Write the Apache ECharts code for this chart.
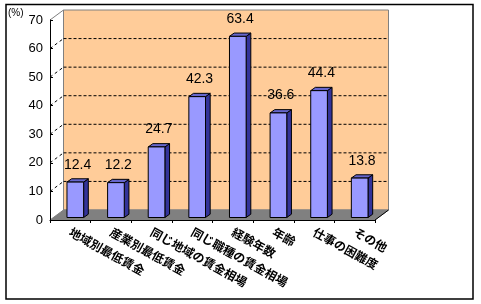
<!DOCTYPE html>
<html><head><meta charset="utf-8">
<script src="https://cdn.jsdelivr.net/npm/echarts@6/dist/echarts.min.js"></script>
<style>html,body{margin:0;padding:0;background:#fff}#c{width:481px;height:304px}</style>
</head><body><div id="c"></div>
<script>
const categories = ['地域別最低賃金','産業別最低賃金','同じ地域の賃金相場','同じ職種の賃金相場','経験年数','年齢','仕事の困難度','その他'];
const values = [12.4, 12.2, 24.7, 42.3, 63.4, 36.6, 44.4, 13.8];
const yTicks = [0, 10, 20, 30, 40, 50, 60, 70];
const unitLabel = '(%)';

const DX = 13.5, DY = -10;
const chart = echarts.init(document.getElementById('c'), null, {renderer: 'canvas'});

function renderWall(params, api) {
  const cs = params.coordSys;
  const x0 = cs.x, x1 = cs.x + cs.width, y0 = cs.y, yb = cs.y + cs.height;
  const ch = [];
  ch.push({type: 'polygon', shape: {points: [[x0 + DX, y0 + DY], [x1 + DX, y0 + DY], [x1 + DX, yb + DY], [x0 + DX, yb + DY]]},
    style: {fill: '#FFCC99', stroke: '#808080', lineWidth: 1}});
  ch.push({type: 'polygon', shape: {points: [[x0, yb], [x1, yb], [x1 + DX, yb + DY], [x0 + DX, yb + DY]]},
    style: {fill: '#808080', stroke: '#808080', lineWidth: 1}});
  ch.push({type: 'line', shape: {x1: x0, y1: y0, x2: x0 + DX, y2: y0 + DY}, style: {stroke: '#808080', lineWidth: 1}});
  ch.push({type: 'line', shape: {x1: x1, y1: yb, x2: x1 + DX, y2: yb + DY}, style: {stroke: '#000', lineWidth: 1}});
  yTicks.forEach(v => {
    if (v === 0 || v === 70) return;
    const y = api.coord([0, v])[1];
    ch.push({type: 'line', shape: {x1: x0 + DX, y1: y + DY, x2: x1 + DX, y2: y + DY},
      style: {stroke: '#000', lineWidth: 1, lineDash: [3, 2]}});
    ch.push({type: 'line', shape: {x1: x0, y1: y, x2: x0 + DX, y2: y + DY},
      style: {stroke: '#000', lineWidth: 1, lineDash: [3, 3]}});
  });
  return {type: 'group', children: ch};
}

function renderBar(params, api) {
  const i = api.value(0), v = api.value(1);
  const c0 = api.coord([i, 0]), c1 = api.coord([i, v]);
  const band = api.size([1, 0])[0];
  const w = band * 0.41, off = band * 0.123, dx = band * 0.115, dy = 3.3;
  const fx = c0[0] + off - w / 2;
  const by = c0[1] - 2.5, ty = c1[1] - 2.5;
  const st = {stroke: '#000', lineWidth: 1};
  return {type: 'group', children: [
    {type: 'polygon', shape: {points: [[fx + w, ty], [fx + w + dx, ty - dy], [fx + w + dx, by - dy], [fx + w, by]]},
      style: Object.assign({fill: '#333399'}, st)},
    {type: 'polygon', shape: {points: [[fx, ty], [fx + dx, ty - dy], [fx + w + dx, ty - dy], [fx + w, ty]]},
      style: Object.assign({fill: '#6666CC'}, st)},
    {type: 'rect', shape: {x: fx, y: ty, width: w, height: by - ty}, style: Object.assign({fill: '#9999FF'}, st)},
    {type: 'text', style: {text: String(v), x: fx + (w + dx) / 2, y: ty - dy - 7, textAlign: 'center', textVerticalAlign: 'bottom',
      font: '14px "Liberation Sans", Arial, sans-serif', fill: '#000'}}
  ]};
}

chart.setOption({
  animation: false,
  backgroundColor: '#fff',
  grid: {left: 50, right: 106, top: 20, bottom: 84},
  graphic: [
    {type: 'rect', shape: {x: 6, y: 4.5, width: 467, height: 294.5}, style: {fill: 'none', stroke: '#000', lineWidth: 1.5}, z: 100},
    {type: 'text', left: 8, top: 8, style: {text: unitLabel, font: '10px "Liberation Sans", Arial, sans-serif', fill: '#000'}}
  ],
  xAxis: {
    type: 'category', data: categories, z: 10,
    axisLine: {lineStyle: {color: '#000', width: 1}},
    axisTick: {show: true, length: 3, lineStyle: {color: '#000'}},
    axisLabel: {rotate: -29, margin: 11, interval: 0, color: '#000', fontSize: 12, fontWeight: 'bold', fontFamily: '"Noto Sans CJK JP", sans-serif'}
  },
  yAxis: {
    type: 'value', min: 0, max: 70, interval: 10, z: 10,
    axisLine: {show: true, lineStyle: {color: '#000', width: 1}},
    axisTick: {show: true, inside: true, length: 3, lineStyle: {color: '#000'}},
    splitLine: {show: false},
    axisLabel: {margin: 7, color: '#000', fontSize: 13, fontFamily: '"Liberation Sans", Arial, sans-serif'}
  },
  series: [
    {type: 'custom', renderItem: renderWall, data: [[0, 0]], z: 1, silent: true},
    {type: 'custom', renderItem: renderBar, data: values.map((v, i) => [i, v]), z: 5}
  ]
});
</script></body></html>
